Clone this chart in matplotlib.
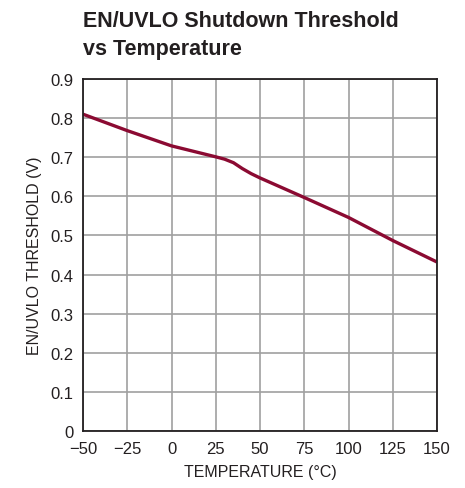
import numpy as np
import matplotlib.pyplot as plt

Red = (139/255, 10/255, 50/255)

temp_arr   = np.array([-50, -25, 0, 25, 30, 35, 40, 45, 50, 75, 100, 125, 150])
thresh_arr = np.array([0.810, 0.768, 0.729, 0.701, 0.695, 0.686, 0.671, 0.658, 0.647,
                       0.597, 0.546, 0.487, 0.432])

x_ticks = [-50, -25, 0, 25, 50, 75, 100, 125, 150]
x_labels = ['\u221250', '\u221225', '0', '25', '50', '75', '100', '125', '150']
y_ticks = np.round(np.arange(0, 0.91, 0.1), 1)
y_labels = ['0'] + ['%.1f' % v for v in y_ticks[1:]]

plt.rcParams['font.family'] = ['Liberation Sans', 'DejaVu Sans']

fig = plt.figure(figsize=(4.65, 4.89), dpi=100)
ax = fig.add_axes([0.1785, 0.1166, 0.7613, 0.7198])

ax.plot(temp_arr, thresh_arr, color=Red, linewidth=2.4, solid_capstyle='butt')

ax.set_xlim(-50, 150)
ax.set_ylim(0, 0.9)
ax.set_xticks(x_ticks)
ax.set_xticklabels(x_labels)
ax.set_yticks(y_ticks)
ax.set_yticklabels(y_labels)
ax.tick_params(length=0, labelsize=12, colors='#231f20', pad=7)
ax.grid(True, color='#a0a0a0', linewidth=1.2)
ax.set_axisbelow(True)
for s in ax.spines.values():
    s.set_color('#231f20')
    s.set_linewidth(1.3)

ax.set_xlabel('TEMPERATURE (\u00b0C)', fontsize=11.5, color='#231f20', labelpad=6)
ax.set_ylabel('EN/UVLO THRESHOLD (V)', fontsize=11.5, color='#231f20', labelpad=6)

fig.text(0.1785, 1 - 11/489, 'EN/UVLO Shutdown Threshold\nvs Temperature', fontsize=15.5,
         fontweight='bold', color='#231f20', ha='left', va='top', linespacing=1.45)

fig.savefig('out.png', dpi=100)
